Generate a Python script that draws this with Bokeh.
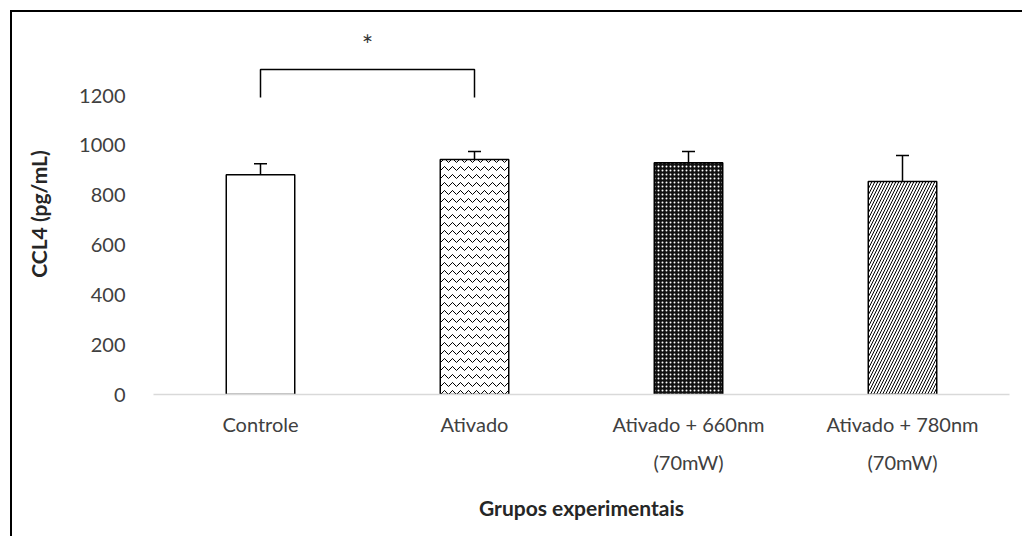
from bokeh.plotting import figure
from bokeh.models import Range1d, FixedTicker, Whisker, ColumnDataSource, TeeHead
from bokeh.core.properties import value
from bokeh.embed import file_html
from bokeh.resources import INLINE

# ---- data ----
groups = ["Controle", "Ativado", "Ativado + 660nm\n(70mW)", "Ativado + 780nm\n(70mW)"]
means = [882, 943, 930, 855]
errors = [44, 32, 45, 104]
y_ticks = [0, 200, 400, 600, 800, 1000, 1200]
sig_pair = [1, 2]
sig_level = 1304
sig_leg = 1192
sig_label = "*"
sig_label_y = 1405

positions = list(range(1, len(groups) + 1))
FONT = "Lato"

p = figure(width=1012, height=526, output_backend="svg", toolbar_location=None,
           x_range=Range1d(0.5, len(groups) + 0.5), y_range=Range1d(0, 1449),
           min_border_left=141, min_border_right=15, min_border_top=21, min_border_bottom=144,
           margin=(10, 0, 0, 10),
           styles={"border-style": "solid none none solid",
                   "border-width": "2px 0px 0px 2px",
                   "border-color": "#000000",
                   "outline": "none"})
p.outline_line_color = None
p.xgrid.visible = False
p.ygrid.visible = False

fills = ["white", "white", "#111111", "white"]
hatches = [" ", "horizontal_wave", "dot", "right_diagonal_line"]
hcolors = ["black", "black", "white", "black"]
hscales = [8, 8, 4, 6]
for i in range(len(groups)):
    p.vbar(x=[positions[i]], top=[means[i]], width=0.32, bottom=0,
           fill_color=fills[i], line_color="black", line_width=1.5,
           hatch_pattern=hatches[i], hatch_color=hcolors[i], hatch_scale=hscales[i],
           hatch_weight=1)

src = ColumnDataSource(dict(x=positions, lower=means,
                            upper=[m + e for m, e in zip(means, errors)]))
w = Whisker(base="x", lower="lower", upper="upper", source=src,
            line_color="black", line_width=1.5,
            upper_head=TeeHead(size=13, line_color="black", line_width=1.5),
            lower_head=None)
p.add_layout(w)

p.line(x=[sig_pair[0], sig_pair[0], sig_pair[1], sig_pair[1]],
       y=[sig_leg, sig_level, sig_level, sig_leg], line_color="black", line_width=1.5)
p.text(x=[(sig_pair[0] + sig_pair[1]) / 2], y=[sig_label_y], text=[sig_label],
       text_align="center", text_baseline="middle", text_font=value(FONT),
       text_font_size="27px", text_color="#333333")

p.yaxis.ticker = FixedTicker(ticks=y_ticks)
p.yaxis.axis_line_color = None
p.yaxis.major_tick_line_color = None
p.yaxis.minor_tick_line_color = None
p.yaxis.major_label_standoff = 22
p.yaxis.axis_label = "CCL4 (pg/mL)"

p.xaxis.ticker = FixedTicker(ticks=positions)
p.xaxis.major_label_overrides = {pos: g for pos, g in zip(positions, groups)}
p.xaxis.axis_line_color = "#d9d9d9"
p.xaxis.axis_line_width = 1.5
p.xaxis.major_tick_line_color = None
p.xaxis.minor_tick_line_color = None
p.xaxis.major_label_standoff = 11
p.xaxis.axis_label = "Grupos experimentais"

for ax in (p.xaxis, p.yaxis):
    ax.major_label_text_font = FONT
    ax.major_label_text_font_size = "20px"
    ax.major_label_text_color = "#404040"
    ax.axis_label_text_font = FONT
    ax.axis_label_text_font_size = "21px"
    ax.axis_label_text_font_style = "bold"
    ax.axis_label_text_color = "#262626"
p.xaxis.major_label_text_line_height = 1.6
p.xaxis.axis_label_standoff = 18
p.yaxis.axis_label_standoff = 25

open("out.html", "w").write(file_html(p, INLINE))
